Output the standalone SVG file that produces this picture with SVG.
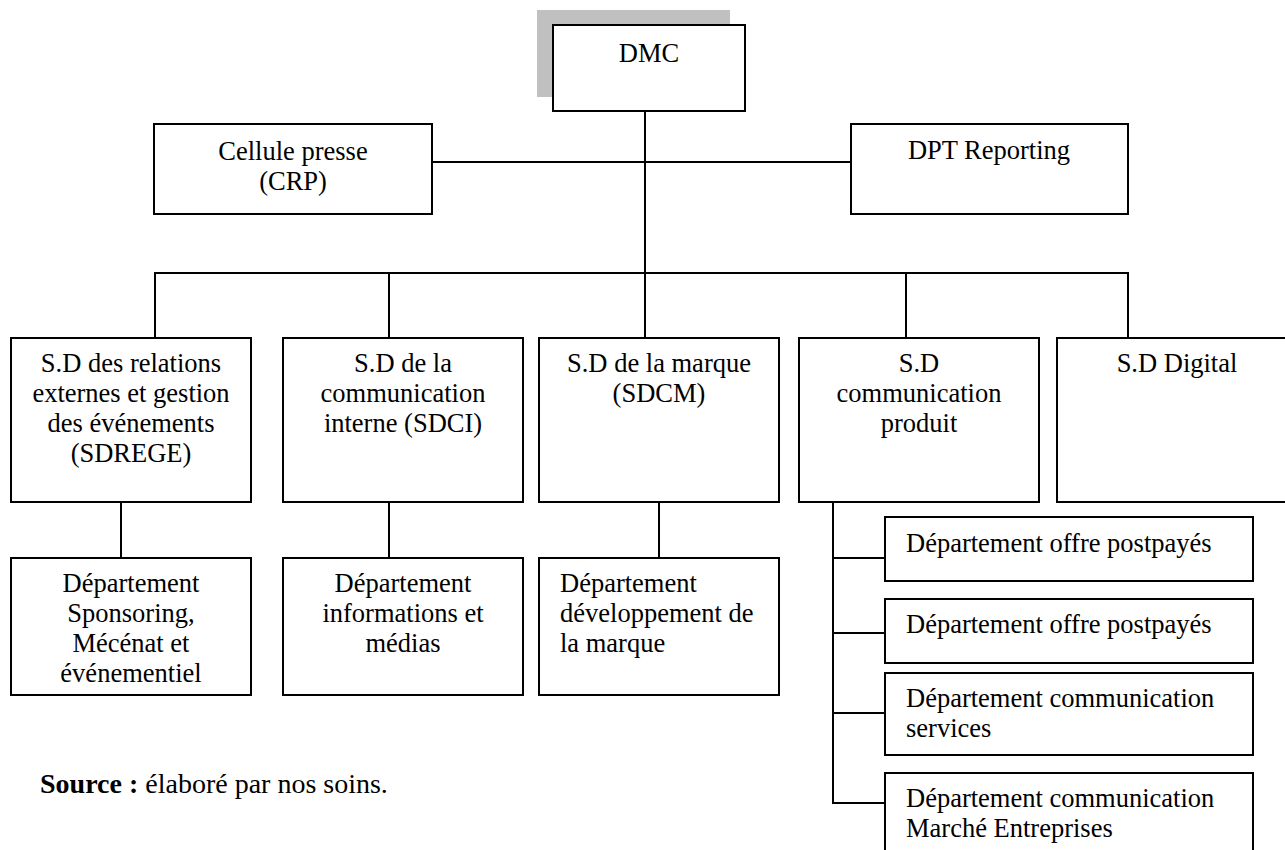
<svg xmlns="http://www.w3.org/2000/svg" width="1285" height="850" viewBox="0 0 1285 850">
<style>
.box{fill:#fff;stroke:#000;stroke-width:2}
.ln{fill:none;stroke:#000;stroke-width:2}
text{font-family:"Liberation Serif","Times New Roman",serif;font-size:26.5px;fill:#000}
.c{text-anchor:middle}
</style>
<rect width="1285" height="850" fill="#fff"/>
<g id="connectors">
<path class="ln" d="M645 111V338"/>
<path class="ln" d="M432 162H851"/>
<path class="ln" d="M155 338V273H1128V338"/>
<path class="ln" d="M389 273V338"/>
<path class="ln" d="M906 273V338"/>
<path class="ln" d="M121 502V558"/>
<path class="ln" d="M389 502V558"/>
<path class="ln" d="M659 502V558"/>
<path class="ln" d="M833 502V803H885"/>
<path class="ln" d="M833 558H885M833 633H885M833 713H885"/>
</g>
<g id="dmc">
<rect x="537" y="10" width="193" height="87" fill="#c0c0c0"/>
<rect class="box" x="553" y="25" width="192" height="86"/>
<text class="c" x="649" y="62">DMC</text>
</g>
<g id="crp">
<rect class="box" x="154" y="124" width="278" height="90"/>
<text class="c" x="293" y="160">Cellule presse</text>
<text class="c" x="293" y="190">(CRP)</text>
</g>
<g id="dpt-reporting">
<rect class="box" x="851" y="124" width="277" height="90"/>
<text class="c" x="989" y="159">DPT Reporting</text>
</g>
<g id="sdrege">
<rect class="box" x="11" y="338" width="240" height="164"/>
<text class="c" x="131" y="372">S.D des relations</text>
<text class="c" x="131" y="402">externes et gestion</text>
<text class="c" x="131" y="432">des événements</text>
<text class="c" x="131" y="462">(SDREGE)</text>
</g>
<g id="sdci">
<rect class="box" x="283" y="338" width="240" height="164"/>
<text class="c" x="403" y="372">S.D de la</text>
<text class="c" x="403" y="402">communication</text>
<text class="c" x="403" y="432">interne (SDCI)</text>
</g>
<g id="sdcm">
<rect class="box" x="539" y="338" width="240" height="164"/>
<text class="c" x="659" y="372">S.D de la marque</text>
<text class="c" x="659" y="402">(SDCM)</text>
</g>
<g id="sdcp">
<rect class="box" x="799" y="338" width="240" height="164"/>
<text class="c" x="919" y="372">S.D</text>
<text class="c" x="919" y="402">communication</text>
<text class="c" x="919" y="432">produit</text>
</g>
<g id="sd-digital">
<rect class="box" x="1057" y="338" width="240" height="164"/>
<text class="c" x="1177" y="372">S.D Digital</text>
</g>
<g id="dep-sponsoring">
<rect class="box" x="11" y="558" width="240" height="137"/>
<text class="c" x="131" y="592">Département</text>
<text class="c" x="131" y="622">Sponsoring,</text>
<text class="c" x="131" y="652">Mécénat et</text>
<text class="c" x="131" y="682">événementiel</text>
</g>
<g id="dep-info">
<rect class="box" x="283" y="558" width="240" height="137"/>
<text class="c" x="403" y="592">Département</text>
<text class="c" x="403" y="622">informations et</text>
<text class="c" x="403" y="652">médias</text>
</g>
<g id="dep-marque">
<rect class="box" x="539" y="558" width="240" height="137"/>
<text x="560" y="592">Département</text>
<text x="560" y="622">développement de</text>
<text x="560" y="652">la marque</text>
</g>
<g id="dep-postpayes-1">
<rect class="box" x="885" y="517" width="368" height="64"/>
<text x="906" y="552">Département offre postpayés</text>
</g>
<g id="dep-postpayes-2">
<rect class="box" x="885" y="599" width="368" height="64"/>
<text x="906" y="633">Département offre postpayés</text>
</g>
<g id="dep-services">
<rect class="box" x="885" y="673" width="368" height="82"/>
<text x="906" y="707">Département communication</text>
<text x="906" y="737">services</text>
</g>
<g id="dep-entreprises">
<rect class="box" x="885" y="773" width="368" height="90"/>
<text x="906" y="807">Département communication</text>
<text x="906" y="837">Marché Entreprises</text>
</g>
<text x="40" y="793" style="font-size:28px"><tspan font-weight="bold">Source :</tspan> élaboré par nos soins.</text>
</svg>
